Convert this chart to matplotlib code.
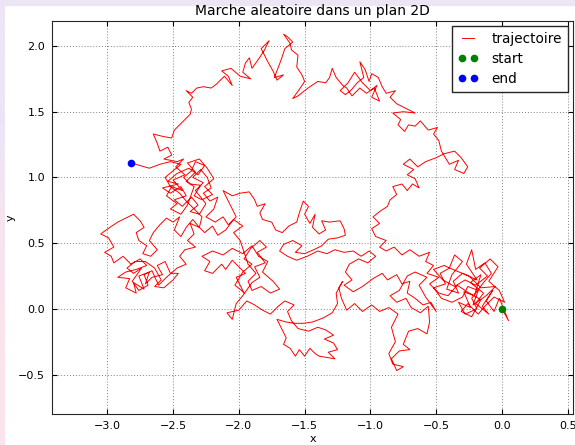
import numpy as np
import matplotlib
matplotlib.use("Agg")
import matplotlib.pyplot as plt
from matplotlib.patches import Rectangle
from matplotlib.ticker import MultipleLocator

# random walk, in order from start to end
right_cluster = [
    (0.00, 0.00), (0.05, -0.09), (-0.02, 0.08), (-0.06, -0.02), (-0.12, 0.06), (-0.07, 0.14),
    (-0.15, 0.02), (-0.10, -0.04), (-0.20, 0.04), (-0.14, 0.12), (-0.24, 0.20), (-0.16, 0.26),
    (-0.21, 0.10), (-0.29, 0.13), (-0.24, 0.01), (-0.33, 0.05), (-0.28, -0.04), (-0.19, 0.00),
    (-0.23, 0.08), (-0.14, 0.20), (-0.08, 0.27), (-0.13, 0.35), (-0.20, 0.30), (-0.23, 0.45),
    (-0.27, 0.34), (-0.19, 0.22), (-0.30, 0.27), (-0.37, 0.21), (-0.33, 0.12), (-0.42, 0.15),
    (-0.38, 0.26), (-0.30, 0.36), (-0.36, 0.41), (-0.40, 0.31), (-0.47, 0.27), (-0.43, 0.19),
    (-0.52, 0.16), (-0.46, 0.08), (-0.38, 0.05), (-0.30, 0.09), (-0.26, 0.17), (-0.18, 0.14),
    (-0.22, 0.03), (-0.12, 0.10), (-0.05, 0.17), (-0.16, 0.16), (-0.25, 0.25), (-0.35, 0.29),
    (-0.44, 0.33), (-0.52, 0.30),
]
right_knot = [
    (-0.45, 0.22), (-0.36, 0.17), (-0.28, 0.22), (-0.20, 0.18), (-0.11, 0.25), (-0.17, 0.31),
    (-0.09, 0.38), (-0.03, 0.32), (-0.10, 0.21), (-0.02, 0.14), (0.02, 0.05), (-0.06, 0.09),
    (-0.13, 0.02), (-0.18, -0.04), (-0.26, 0.04), (-0.31, -0.02), (-0.23, -0.06), (-0.16, 0.07),
    (-0.25, 0.12), (-0.34, 0.18), (-0.41, 0.10), (-0.48, 0.12), (-0.55, 0.19), (-0.48, 0.24),
    (-0.57, 0.27), (-0.52, 0.33),
]
rise_east = [
    (-0.58, 0.36), (-0.55, 0.43), (-0.63, 0.40), (-0.70, 0.45), (-0.76, 0.41), (-0.82, 0.47),
    (-0.88, 0.44), (-0.93, 0.47), (-0.88, 0.52), (-0.96, 0.55), (-0.99, 0.61), (-0.93, 0.65),
    (-0.98, 0.70), (-0.93, 0.74), (-0.87, 0.78), (-0.85, 0.83), (-0.80, 0.87), (-0.83, 0.93),
    (-0.76, 0.95), (-0.72, 0.90), (-0.68, 0.95), (-0.63, 0.92), (-0.66, 0.99), (-0.72, 1.02),
    (-0.67, 1.06), (-0.75, 1.10), (-0.70, 1.14), (-0.64, 1.08), (-0.58, 1.12), (-0.50, 1.15),
    (-0.44, 1.18), (-0.36, 1.20), (-0.31, 1.15), (-0.26, 1.08), (-0.29, 1.03), (-0.36, 1.06),
    (-0.33, 1.13), (-0.40, 1.10), (-0.46, 1.20), (-0.48, 1.28), (-0.52, 1.33), (-0.49, 1.38),
    (-0.56, 1.36), (-0.62, 1.43), (-0.66, 1.39), (-0.71, 1.40), (-0.74, 1.35), (-0.79, 1.40),
    (-0.77, 1.44), (-0.83, 1.49), (-0.75, 1.50), (-0.66, 1.49), (-0.74, 1.53), (-0.80, 1.56),
    (-0.85, 1.61), (-0.81, 1.66), (-0.88, 1.64), (-0.91, 1.69), (-0.94, 1.76), (-0.99, 1.79),
    (-1.01, 1.73), (-1.04, 1.82), (-1.08, 1.88), (-1.05, 1.76), (-1.10, 1.72), (-1.15, 1.66),
    (-1.19, 1.63), (-1.23, 1.66),
]
top_right_knot = [
    (-1.17, 1.72), (-1.12, 1.80), (-1.06, 1.72), (-1.00, 1.66), (-0.95, 1.70), (-0.99, 1.61),
    (-0.93, 1.58), (-0.97, 1.68), (-1.03, 1.64), (-1.08, 1.68), (-1.14, 1.62), (-1.18, 1.68),
]
top_arc = [
    (-1.21, 1.70), (-1.26, 1.76), (-1.29, 1.83), (-1.31, 1.76), (-1.34, 1.72), (-1.40, 1.73),
    (-1.46, 1.69), (-1.50, 1.66), (-1.55, 1.62), (-1.59, 1.60), (-1.54, 1.67), (-1.50, 1.73),
    (-1.52, 1.78), (-1.56, 1.84), (-1.55, 1.93), (-1.60, 1.97), (-1.61, 2.02), (-1.66, 2.09),
    (-1.63, 2.07), (-1.59, 2.03), (-1.65, 1.98), (-1.68, 1.89), (-1.73, 1.76), (-1.66, 1.78),
    (-1.71, 1.74), (-1.74, 1.81), (-1.78, 1.88), (-1.83, 1.98), (-1.77, 2.04), (-1.81, 1.96),
    (-1.85, 1.90), (-1.90, 1.83), (-1.92, 1.91), (-1.95, 1.87), (-1.97, 1.80), (-1.91, 1.75),
    (-1.99, 1.77), (-2.06, 1.83), (-2.13, 1.81), (-2.08, 1.77), (-2.05, 1.70), (-2.11, 1.77),
    (-2.17, 1.71), (-2.21, 1.68), (-2.27, 1.69), (-2.32, 1.68), (-2.36, 1.64), (-2.40, 1.66),
    (-2.35, 1.61), (-2.38, 1.57), (-2.36, 1.52), (-2.37, 1.48), (-2.41, 1.44), (-2.45, 1.40),
    (-2.49, 1.36), (-2.51, 1.30), (-2.57, 1.31), (-2.65, 1.33), (-2.62, 1.26), (-2.60, 1.20),
    (-2.54, 1.23), (-2.51, 1.17), (-2.57, 1.14), (-2.47, 1.12), (-2.42, 1.14),
]
upper_knot = [
    (-2.48, 1.08), (-2.41, 1.02), (-2.50, 0.98), (-2.43, 0.90), (-2.51, 0.93), (-2.55, 0.86),
    (-2.47, 0.80), (-2.52, 0.76), (-2.44, 0.72), (-2.39, 0.79), (-2.34, 0.93), (-2.40, 0.97),
    (-2.33, 1.04), (-2.39, 1.11), (-2.30, 1.14), (-2.24, 1.07), (-2.19, 0.99), (-2.26, 0.93),
    (-2.20, 0.87), (-2.28, 0.83), (-2.34, 0.86), (-2.29, 0.94), (-2.37, 0.95), (-2.42, 1.00),
    (-2.36, 1.05),
]
upper_west = [
    (-2.33, 1.12), (-2.26, 1.09), (-2.31, 1.02), (-2.38, 1.07), (-2.47, 1.03), (-2.54, 0.97),
    (-2.46, 0.95), (-2.58, 0.92), (-2.52, 0.88), (-2.44, 0.93), (-2.40, 0.86), (-2.49, 0.83),
    (-2.43, 0.78), (-2.36, 0.85), (-2.31, 0.79), (-2.37, 0.74), (-2.30, 0.72), (-2.25, 0.80),
    (-2.33, 0.90), (-2.27, 0.96), (-2.35, 1.00), (-2.29, 1.06), (-2.24, 1.00), (-2.21, 0.92),
    (-2.27, 0.88), (-2.22, 0.82), (-2.16, 0.85), (-2.19, 0.76), (-2.25, 0.70), (-2.18, 0.66),
    (-2.12, 0.70), (-2.08, 0.64),
]
centre = [
    (-2.02, 0.70), (-2.06, 0.78), (-2.12, 0.90), (-2.05, 0.86), (-1.99, 0.88), (-1.92, 0.89),
    (-1.88, 0.83), (-1.86, 0.78), (-1.80, 0.80), (-1.84, 0.73), (-1.82, 0.68), (-1.75, 0.66),
    (-1.72, 0.60), (-1.67, 0.58), (-1.62, 0.63), (-1.56, 0.66), (-1.54, 0.73), (-1.51, 0.82),
    (-1.47, 0.78), (-1.50, 0.72), (-1.46, 0.65), (-1.42, 0.72), (-1.44, 0.62), (-1.39, 0.57),
    (-1.34, 0.60), (-1.37, 0.67), (-1.31, 0.66), (-1.23, 0.67), (-1.20, 0.61), (-1.19, 0.56),
    (-1.25, 0.54), (-1.32, 0.53), (-1.37, 0.48), (-1.43, 0.45), (-1.50, 0.42), (-1.57, 0.43),
    (-1.52, 0.48), (-1.59, 0.52), (-1.66, 0.49), (-1.69, 0.44), (-1.63, 0.40), (-1.56, 0.37),
    (-1.48, 0.40), (-1.40, 0.44), (-1.33, 0.42), (-1.27, 0.45), (-1.20, 0.43), (-1.13, 0.44),
    (-1.07, 0.40), (-1.01, 0.44), (-0.96, 0.40), (-1.02, 0.35), (-1.09, 0.38), (-1.16, 0.34),
    (-1.19, 0.28), (-1.14, 0.22), (-1.20, 0.18), (-1.13, 0.13), (-1.06, 0.17), (-0.98, 0.23),
    (-0.91, 0.27), (-0.87, 0.22), (-0.80, 0.26), (-0.76, 0.19), (-0.70, 0.21), (-0.72, 0.12),
    (-0.66, 0.08), (-0.60, 0.03), (-0.54, 0.05), (-0.50, -0.02),
]
mid_right_knot = [
    (-0.58, 0.09), (-0.63, 0.18), (-0.57, 0.24), (-0.66, 0.28), (-0.72, 0.25), (-0.78, 0.14),
    (-0.85, 0.10), (-0.80, 0.05), (-0.73, 0.08), (-0.69, 0.01), (-0.62, -0.03), (-0.56, 0.02),
]
south = [
    (-0.55, -0.10), (-0.57, -0.19), (-0.64, -0.15), (-0.71, -0.17), (-0.75, -0.27), (-0.70, -0.31),
    (-0.78, -0.32), (-0.84, -0.38), (-0.80, -0.47), (-0.75, -0.44), (-0.83, -0.42), (-0.86, -0.34),
    (-0.81, -0.25), (-0.84, -0.14), (-0.79, -0.04), (-0.86, 0.01), (-0.93, -0.02), (-0.99, 0.03),
    (-1.06, -0.02), (-1.12, 0.04), (-1.18, -0.01), (-1.22, 0.08), (-1.24, 0.16), (-1.21, 0.21),
    (-1.26, 0.12), (-1.25, 0.04), (-1.29, -0.03), (-1.36, -0.07), (-1.44, -0.10), (-1.51, -0.11),
    (-1.58, -0.11), (-1.64, -0.10), (-1.71, -0.08), (-1.67, -0.16), (-1.64, -0.22), (-1.66, -0.27),
    (-1.61, -0.30), (-1.57, -0.36), (-1.54, -0.31), (-1.50, -0.36), (-1.46, -0.30), (-1.42, -0.34),
    (-1.39, -0.36), (-1.33, -0.37), (-1.27, -0.38), (-1.32, -0.33), (-1.25, -0.31), (-1.28, -0.26),
    (-1.35, -0.23), (-1.28, -0.20), (-1.34, -0.16), (-1.40, -0.14), (-1.47, -0.17), (-1.55, -0.15),
    (-1.60, -0.09), (-1.63, -0.02), (-1.58, 0.03), (-1.65, 0.06), (-1.70, 0.02), (-1.76, -0.04),
    (-1.82, -0.01), (-1.88, 0.03), (-1.94, 0.06), (-2.00, -0.01), (-2.09, -0.03), (-2.05, -0.08),
    (-2.02, 0.04),
]
middle_knot = [
    (-1.97, 0.10), (-1.90, 0.20), (-1.84, 0.24), (-1.88, 0.32), (-1.80, 0.35), (-1.86, 0.43),
    (-1.79, 0.47), (-1.84, 0.52), (-1.91, 0.46), (-1.96, 0.38), (-1.90, 0.34), (-1.97, 0.28),
    (-2.03, 0.18), (-1.98, 0.14),
]
middle_west = [
    (-1.96, 0.12), (-2.02, 0.24), (-1.95, 0.27), (-2.05, 0.37), (-2.10, 0.30), (-2.13, 0.34),
    (-2.20, 0.27), (-2.26, 0.29), (-2.22, 0.36), (-2.28, 0.40), (-2.20, 0.44), (-2.12, 0.41),
    (-2.05, 0.46), (-1.97, 0.42), (-1.90, 0.48), (-1.85, 0.40), (-1.78, 0.36), (-1.82, 0.28),
    (-1.74, 0.21), (-1.69, 0.15), (-1.76, 0.12), (-1.83, 0.17), (-1.90, 0.14), (-1.93, 0.21),
    (-1.87, 0.27), (-1.93, 0.34), (-1.99, 0.52), (-2.04, 0.58), (-1.97, 0.63), (-2.04, 0.68),
    (-2.10, 0.60), (-2.16, 0.56), (-2.20, 0.63), (-2.26, 0.58), (-2.30, 0.62), (-2.37, 0.65),
    (-2.34, 0.57), (-2.39, 0.52), (-2.33, 0.47), (-2.41, 0.45), (-2.45, 0.40), (-2.40, 0.34),
    (-2.47, 0.31),
]
west_knot = [
    (-2.55, 0.24), (-2.61, 0.18), (-2.66, 0.29), (-2.72, 0.26), (-2.69, 0.18), (-2.76, 0.14),
    (-2.81, 0.21), (-2.74, 0.31), (-2.80, 0.27), (-2.85, 0.31), (-2.79, 0.36), (-2.71, 0.36),
    (-2.64, 0.31), (-2.59, 0.22), (-2.64, 0.17), (-2.57, 0.16), (-2.50, 0.22), (-2.46, 0.27),
]
west_loop = [
    (-2.52, 0.27), (-2.56, 0.36), (-2.62, 0.33), (-2.58, 0.26), (-2.66, 0.24), (-2.71, 0.19),
    (-2.68, 0.28), (-2.76, 0.25), (-2.72, 0.15), (-2.80, 0.20), (-2.78, 0.12), (-2.86, 0.16),
    (-2.83, 0.23), (-2.92, 0.24), (-2.86, 0.28), (-2.78, 0.30), (-2.70, 0.33), (-2.75, 0.38),
    (-2.82, 0.34), (-2.88, 0.40), (-2.95, 0.35), (-2.97, 0.40), (-3.02, 0.43), (-2.95, 0.47),
    (-2.99, 0.54), (-3.05, 0.57), (-2.98, 0.62), (-2.92, 0.66), (-2.86, 0.69), (-2.80, 0.72),
    (-2.75, 0.67), (-2.72, 0.62), (-2.78, 0.58), (-2.76, 0.52), (-2.70, 0.48), (-2.73, 0.42),
    (-2.67, 0.40), (-2.62, 0.45), (-2.68, 0.52), (-2.65, 0.58), (-2.60, 0.64), (-2.55, 0.69),
    (-2.50, 0.66), (-2.45, 0.70), (-2.49, 0.60), (-2.44, 0.55), (-2.40, 0.62), (-2.35, 0.68),
    (-2.30, 0.62),
]
final_leg = [
    (-2.28, 0.70), (-2.34, 0.76), (-2.40, 0.82), (-2.45, 0.88), (-2.52, 0.93), (-2.56, 1.00),
    (-2.50, 1.05), (-2.44, 1.10), (-2.52, 1.12), (-2.60, 1.10), (-2.68, 1.07), (-2.75, 1.09),
    (-2.82, 1.11),
]

walk = np.array(right_cluster + right_knot + rise_east + top_right_knot + top_arc + upper_knot
                + upper_west + centre + mid_right_knot + south + middle_knot + middle_west
                + west_knot + west_loop + final_leg)
x, y = walk[:, 0], walk[:, 1]

fig = plt.figure(figsize=(5.75, 4.45), dpi=100)
fig.patch.set_facecolor("white")
# lavender screenshot border (top and left)
fig.add_artist(Rectangle((0, 1 - 5 / 445), 1, 5 / 445, transform=fig.transFigure,
                         color="#ece5f4", zorder=0))
strip = fig.add_axes([0, 0, 5 / 575, 1])
grad = np.array([[[236, 229, 245]], [[252, 228, 236]]]) / 255.0
strip.imshow(grad, aspect="auto", interpolation="bilinear")
strip.axis("off")

ax = fig.add_axes([52 / 575, 31 / 445, 521 / 575, 393 / 445])
ax.plot(x, y, color="r", lw=0.7, label="trajectoire")
ax.plot(x[0], y[0], "o", color=(0, 0.5, 0), ms=4.5, mec=(0, 0.5, 0), label="start")
ax.plot(x[-1], y[-1], "o", color="b", ms=4.5, mec="b", label="end")

ax.set_xlim(-3.42, 0.54)
ax.set_ylim(-0.8, 2.19)
ax.xaxis.set_major_locator(MultipleLocator(0.5))
ax.yaxis.set_major_locator(MultipleLocator(0.5))
ax.tick_params(direction="in", length=3.5, width=0.8, top=True, right=True,
               labelsize=8, pad=5)
ax.grid(True, linestyle=(0, (1, 2)), color="0.5", lw=0.7)
for s in ax.spines.values():
    s.set_color("0.15")

ax.set_title("Marche aleatoire dans un plan 2D", fontsize=10, pad=4)
ax.set_xlabel("x", fontsize=8, labelpad=2)
ax.set_ylabel("y", fontsize=8, labelpad=2)

leg = ax.legend(loc="upper right", numpoints=2, fancybox=False, edgecolor="0.15",
                framealpha=1, fontsize=9.8, handlelength=1.5, handletextpad=1.0,
                labelspacing=0.45, borderaxespad=0.4)
leg.get_frame().set_linewidth(1.0)

plt.savefig("out.png", dpi=100)
